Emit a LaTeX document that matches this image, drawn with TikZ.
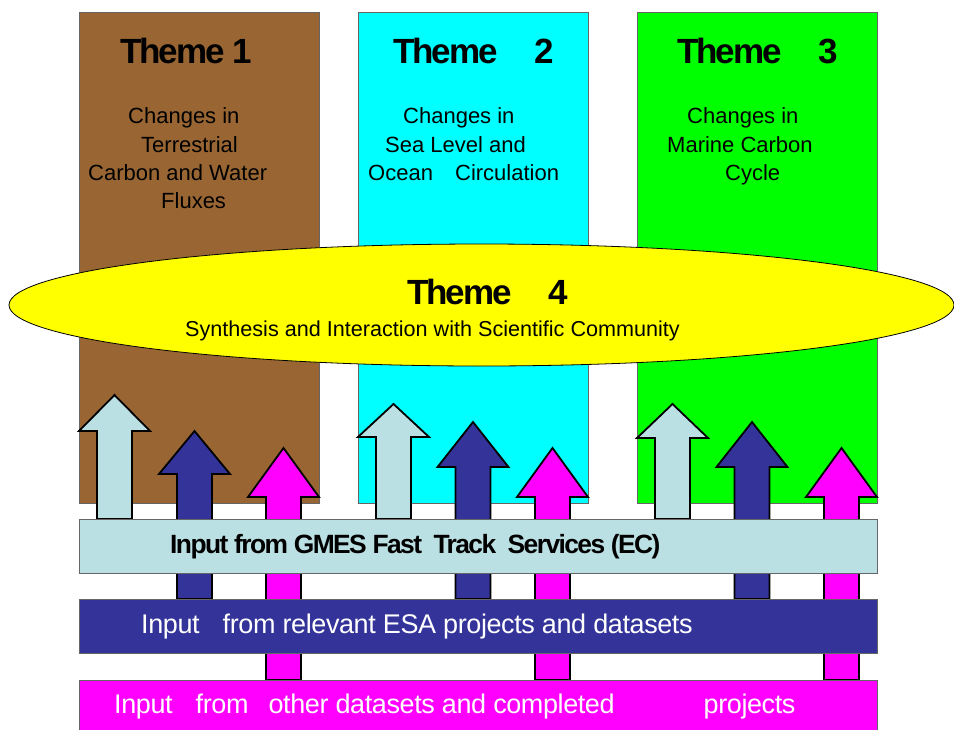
\documentclass[tikz,border=0pt]{standalone}
\usepackage{fontspec}
\setmainfont{Liberation Sans}
\newfontfamily\tightsans[LetterSpace=-6]{Liberation Sans}
\newfontfamily\barsans[LetterSpace=-1.5]{Liberation Sans}

\definecolor{themebrown}{HTML}{996633}
\definecolor{themecyan}{HTML}{00FFFF}
\definecolor{themegreen}{HTML}{00FF00}
\definecolor{themeyellow}{HTML}{FFFF00}
\definecolor{gmesblue}{HTML}{BBE0E3}
\definecolor{esablue}{HTML}{333399}
\definecolor{othermagenta}{HTML}{FF00FF}

\tikzset{
  colbox/.style={draw=black!60, line width=0.8pt},
  uparrow/.style={draw=black, line width=1.8pt, line join=miter},
  themetitle/.style={anchor=base west, inner sep=0pt, font=\tightsans\bfseries\fontsize{35}{35}\selectfont},
  themetext/.style={anchor=base west, inner sep=0pt, font=\fontsize{22}{28}\selectfont},
  bartext/.style={anchor=base west, inner sep=0pt, font=\barsans\fontsize{27}{27}\selectfont, text=white},
}

\begin{document}
\begin{tikzpicture}[x=1pt, y=-1pt]
\useasboundingbox (0,0) rectangle (954,729);

% the three theme columns
\draw [colbox, fill=themebrown] (79,12) rectangle (319,503);
\draw [colbox, fill=themecyan] (358,12) rectangle (588,503);
\draw [colbox, fill=themegreen] (637,12) rectangle (877,503);

\node [themetitle] (title1) at (120,63) {Theme 1};
\node [themetitle] (title2) at (393,63) {Theme\hspace{37pt}2};
\node [themetitle] (title3) at (677,63) {Theme\hspace{37pt}3};

\foreach \x/\y/\t [count=\i] in {128/123/Changes in, 141/152/Terrestrial, 88/180/Carbon and Water, 161/208/Fluxes}
  \node [themetext] (landtext\i) at (\x,\y) {\t};
\foreach \x/\y/\t [count=\i] in {403/123/Changes in, 385/152/Sea Level and, 368/180/{Ocean\hspace{16pt} Circulation}}
  \node [themetext] (seatext\i) at (\x,\y) {\t};
\foreach \x/\y/\t [count=\i] in {687/123/Changes in, 667/152/Marine Carbon, 725/180/Cycle}
  \node [themetext] (marinetext\i) at (\x,\y) {\t};

% theme 4 lies across all columns
\draw [black, line width=0.8pt, fill=themeyellow] (481.5,305) ellipse [x radius=472.5pt, y radius=61pt];
\node [themetitle] (title4) at (407,304) {Theme\hspace{37pt}4};
\node [themetext, font=\fontsize{21.6}{22}\selectfont] (synthesis) at (185,336) {Synthesis and Interaction with Scientific Community};

% input arrows: centre / tip / head base / foot / colour
\foreach \cx/\tip/\hb/\bot/\col in {
  114.5/395/431/519/gmesblue, 194.5/431/474/599/esablue, 283.5/448/497/680/othermagenta,
  393.5/404/437/519/gmesblue, 473/422/467/599/esablue, 552.5/448/497/680/othermagenta,
  672.5/404/438/519/gmesblue, 752/422/467/599/esablue, 841.5/448/497/680/othermagenta}
  \draw [uparrow, fill=\col] (\cx,\tip) -- (\cx+35.5,\hb) -- (\cx+17.5,\hb) -- (\cx+17.5,\bot)
    -- (\cx-17.5,\bot) -- (\cx-17.5,\hb) -- (\cx-35.5,\hb) -- cycle;

% input bars
\draw [colbox, fill=gmesblue] (79,519) rectangle (877,573);
\draw [colbox, fill=esablue] (79,599) rectangle (877,653);
\draw [colbox, fill=othermagenta] (79,680) rectangle (877,735);

\node [bartext, font=\tightsans\bfseries\fontsize{26.4}{27}\selectfont, text=black] (gmes) at (170,553)
  {Input from GMES Fast\ \ Track\ \ Services (EC)};
\node [bartext] (esa) at (141,633) {Input\hspace{16pt} from relevant ESA projects and datasets};
\node [bartext] (other) at (114,713)
  {Input\hspace{16pt} from\hspace{13pt} other datasets and completed\hspace{82pt} projects};
\end{tikzpicture}
\end{document}
